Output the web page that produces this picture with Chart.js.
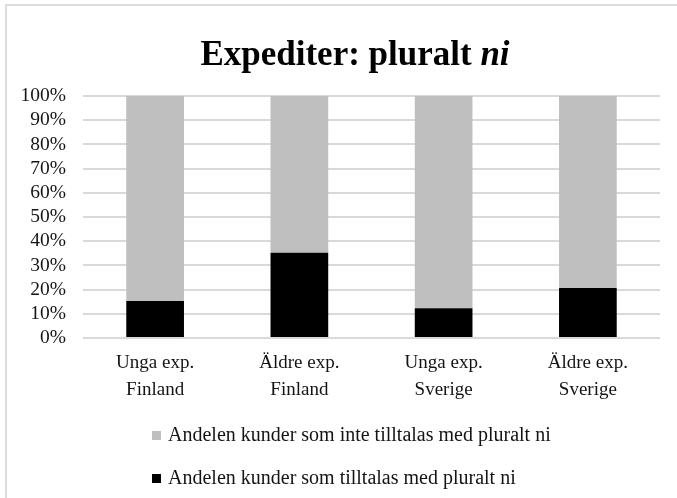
<!DOCTYPE html>
<html>
<head>
<meta charset="utf-8">
<script src="https://cdn.jsdelivr.net/npm/chart.js@4.4.1/dist/chart.umd.min.js"></script>
<style>
  html, body { margin: 0; padding: 0; background: #fff; overflow: hidden; width: 677px; height: 498px; }
  #frame { position: absolute; left: 5px; top: 4px; width: 720px; height: 560px; border: 2px solid #dcdcdc; box-sizing: border-box; }
  #c { position: absolute; left: 0; top: 0; }
</style>
</head>
<body>
<div id="frame"></div>
<canvas id="c" width="677" height="498"></canvas>
<script>
const categories = [["Unga exp.", "Finland"], ["Äldre exp.", "Finland"], ["Unga exp.", "Sverige"], ["Äldre exp.", "Sverige"]];
const seriesNames = ["Andelen kunder som tilltalas med pluralt ni", "Andelen kunder som inte tilltalas med pluralt ni"];
const tilltalasValues = [15.3, 35.2, 12.3, 20.7];
const inteTilltalasValues = [84.7, 64.8, 87.7, 79.3];
const yTickValues = [0, 10, 20, 30, 40, 50, 60, 70, 80, 90, 100];
const titleMain = "Expediter: pluralt ";
const titleItalic = "ni";

const FONT = "'Liberation Serif', 'Times New Roman', serif";
const TEXT = "#141414";

const customDraw = {
  id: 'customDraw',
  afterDraw(chart) {
    const ctx = chart.ctx;
    ctx.save();
    // Title with italic part
    const fMain = "bold 35px " + FONT;
    const fIt = "bold italic 35px " + FONT;
    ctx.font = fMain;
    const w1 = ctx.measureText(titleMain).width;
    ctx.font = fIt;
    const w2 = ctx.measureText(titleItalic).width;
    const cx = 355;
    let x = cx - (w1 + w2) / 2;
    const y = 65;
    ctx.fillStyle = "#000";
    ctx.textBaseline = "alphabetic";
    ctx.textAlign = "left";
    ctx.font = fMain;
    ctx.fillText(titleMain, x, y);
    ctx.font = fIt;
    ctx.fillText(titleItalic, x + w1, y);

    // Legend (reverse order: gray first)
    const ds = chart.data.datasets.slice().reverse();
    const rows = [436, 479];
    ctx.font = "20px " + FONT;
    ctx.textBaseline = "middle";
    ds.forEach((d, i) => {
      ctx.fillStyle = d.backgroundColor;
      ctx.fillRect(152, rows[i] - 5, 9, 9);
      ctx.fillStyle = TEXT;
      ctx.fillText(d.label, 168, rows[i]);
    });
    ctx.restore();
  }
};

new Chart(document.getElementById('c'), {
  type: 'bar',
  data: {
    labels: categories,
    datasets: [
      { label: seriesNames[0], data: tilltalasValues, backgroundColor: "#000000", barPercentage: 0.4, categoryPercentage: 1.0 },
      { label: seriesNames[1], data: inteTilltalasValues, backgroundColor: "#bfbfbf", barPercentage: 0.4, categoryPercentage: 1.0 }
    ]
  },
  options: {
    responsive: false,
    animation: false,
    layout: { padding: { left: 0, right: 17, top: 96, bottom: 90 } },
    plugins: {
      legend: { display: false },
      title: { display: false },
      tooltip: { enabled: false }
    },
    scales: {
      x: {
        stacked: true,
        grid: { display: false, drawTicks: false },
        border: { display: false },
        ticks: { color: TEXT, font: { family: FONT, size: 19, lineHeight: 1.4 }, padding: 12, maxRotation: 0, autoSkip: false },
        afterFit: (s) => { s.height = 70; }
      },
      y: {
        stacked: true,
        min: 0, max: 100,
        afterBuildTicks: (s) => { s.ticks = yTickValues.map(v => ({ value: v })); },
        grid: { color: "#d9d9d9", lineWidth: 2, drawTicks: false },
        border: { display: false },
        ticks: { color: TEXT, font: { family: FONT, size: 19.5 }, padding: 17, autoSkip: false, callback: (v) => v + "%" },
        afterFit: (s) => { s.width = 83; }
      }
    }
  },
  plugins: [customDraw]
});
</script>
</body>
</html>
